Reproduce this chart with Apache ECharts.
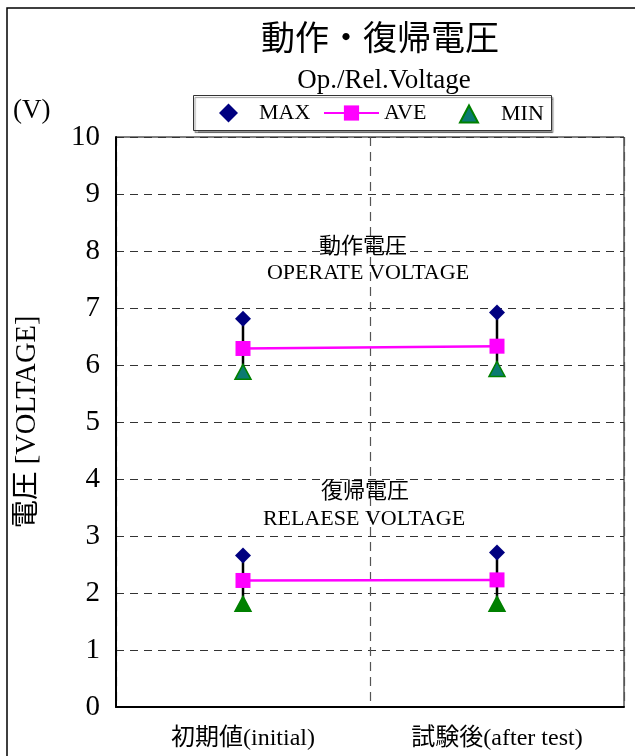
<!DOCTYPE html>
<html><head><meta charset="utf-8">
<script src="https://cdn.jsdelivr.net/npm/echarts@6/dist/echarts.min.js"></script>
<style>html,body{margin:0;padding:0;background:#fff}#c{width:635px;height:756px}</style>
</head><body><div id="c"></div>
<script>
const categories = ['初期値(initial)', '試験後(after test)'];
const opMax = [6.81, 6.92];
const opAve = [6.29, 6.33];
const opMin = [5.88, 5.93];
const relMax = [2.66, 2.71];
const relAve = [2.22, 2.23];
const relMin = [1.81, 1.81];
const yTicks = [0, 1, 2, 3, 4, 5, 6, 7, 8, 9, 10];

const FONT = "'Liberation Serif', 'Noto Sans CJK JP', serif";
const chart = echarts.init(document.getElementById('c'));

function rangeSeries(mins, maxs) {
  return {
    type: 'custom', z: 1, silent: true,
    data: categories.map((c, i) => [i, mins[i], maxs[i]]),
    renderItem: function (params, api) {
      const p1 = api.coord([api.value(0), api.value(1)]);
      const p2 = api.coord([api.value(0), api.value(2)]);
      return { type: 'line', shape: { x1: p1[0], y1: p1[1], x2: p2[0], y2: p2[1] },
        style: { stroke: '#000', lineWidth: 2.5 } };
    }
  };
}
function maxSeries(vals) {
  return { name: 'MAX', type: 'scatter', z: 3, symbol: 'diamond', symbolSize: [16, 16],
    itemStyle: { color: '#000080', opacity: 1 }, data: vals };
}
function aveSeries(vals) {
  return { name: 'AVE', type: 'line', z: 4, symbol: 'rect', symbolSize: 15,
    showSymbol: true, itemStyle: { color: '#ff00ff', opacity: 1 },
    lineStyle: { color: '#ff00ff', width: 2.5 }, data: vals };
}
function minSeries(vals, fill) {
  return { name: 'MIN', type: 'scatter', z: 3, symbol: 'triangle', symbolSize: [16, 15],
    itemStyle: { color: fill, borderColor: '#008000', borderWidth: 1.5, opacity: 1 }, data: vals };
}
const legendText = { fontFamily: FONT, fontSize: 22, color: '#000' };

chart.setOption({
  animation: false,
  backgroundColor: '#fff',
  title: [
    { text: '動作・復帰電圧', left: 375, top: 19, textAlign: 'center',
      textStyle: { fontFamily: FONT, fontSize: 34, fontWeight: 'normal', color: '#000' } },
    { text: 'Op./Rel.Voltage', left: 379, top: 62, textAlign: 'center',
      textStyle: { fontFamily: FONT, fontSize: 27, fontWeight: 'normal', color: '#000' } }
  ],
  legend: [
    { data: [{ name: 'MAX', icon: 'diamond' }], left: 219, top: 102, padding: 0,
      itemWidth: 19, itemHeight: 19, textStyle: Object.assign({ padding: [0, 0, 0, 16] }, legendText) },
    { data: ['AVE'], left: 323, top: 102, padding: 0,
      itemWidth: 55, itemHeight: 19, textStyle: Object.assign({ padding: [0, 0, 0, 0] }, legendText) },
    { data: [{ name: 'MIN', icon: 'triangle' }], left: 459, top: 103, padding: 0,
      itemWidth: 18, itemHeight: 17, textStyle: Object.assign({ padding: [0, 0, 0, 18] }, legendText) }
  ],
  grid: { left: 116, top: 137, width: 508, height: 570, show: true,
    borderColor: '#000', borderWidth: 1, backgroundColor: 'transparent' },
  xAxis: {
    type: 'category', data: categories, boundaryGap: true,
    axisLine: { lineStyle: { color: '#000', width: 2 } },
    axisTick: { show: false },
    axisLabel: { fontFamily: FONT, fontSize: 24, color: '#000', margin: 20 },
    splitLine: { show: true, lineStyle: { color: '#555', type: [9, 6], width: 1.2 } }
  },
  yAxis: {
    type: 'value', min: yTicks[0], max: yTicks[yTicks.length - 1], interval: 1,
    name: '電圧 [VOLTAGE]', nameLocation: 'middle', nameRotate: 90, nameGap: 74,
    nameTextStyle: { fontFamily: FONT, fontSize: 28.5, color: '#000' },
    axisLine: { show: true, lineStyle: { color: '#000', width: 2 } },
    axisTick: { show: false },
    axisLabel: { fontFamily: FONT, fontSize: 29, color: '#000', margin: 16 },
    splitLine: { show: true, lineStyle: { color: '#333', type: [8, 6], width: 1 } }
  },
  graphic: [
    { type: 'rect', shape: { x: 7, y: 8, width: 700, height: 800 },
      style: { fill: 'none', stroke: '#000', lineWidth: 1.5 }, z: -1, silent: true },
    { type: 'rect', shape: { x: 193.5, y: 95.5, width: 358, height: 35 },
      style: { fill: '#fff', stroke: '#333', lineWidth: 1,
        shadowColor: 'rgba(0,0,0,0.4)', shadowOffsetX: 1.5, shadowOffsetY: 2, shadowBlur: 1 },
      z: -1, silent: true },
    { type: 'text', left: 13, top: 97, style: { text: '(V)', font: '27px ' + FONT, fill: '#000' } },
    { type: 'text', x: 363, y: 247, style: { text: '動作電圧', font: '22px ' + FONT, fill: '#000', align: 'center', verticalAlign: 'middle' }, z: 10 },
    { type: 'text', x: 368, y: 273, style: { text: 'OPERATE VOLTAGE', font: '22px ' + FONT, fill: '#000', align: 'center', verticalAlign: 'middle' }, z: 10 },
    { type: 'text', x: 365, y: 492, style: { text: '復帰電圧', font: '22px ' + FONT, fill: '#000', align: 'center', verticalAlign: 'middle' }, z: 10 },
    { type: 'text', x: 364, y: 519, style: { text: 'RELAESE VOLTAGE', font: '22px ' + FONT, fill: '#000', align: 'center', verticalAlign: 'middle' }, z: 10 }
  ],
  series: [
    rangeSeries(opMin, opMax),
    rangeSeries(relMin, relMax),
    maxSeries(opMax), aveSeries(opAve), minSeries(opMin, '#0b7a72'),
    maxSeries(relMax), aveSeries(relAve), minSeries(relMin, '#008000')
  ]
});
</script></body></html>
